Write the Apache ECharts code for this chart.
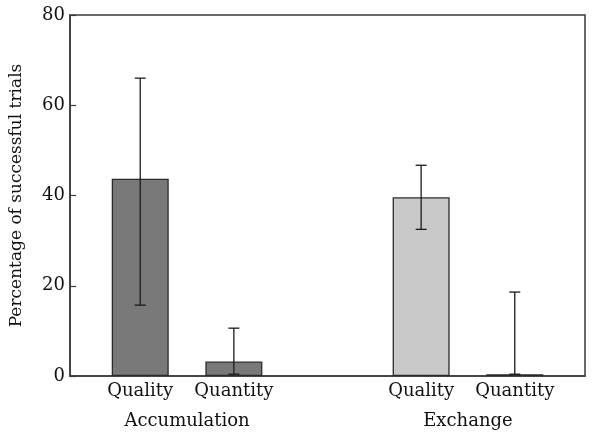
<!DOCTYPE html>
<html>
<head>
<meta charset="utf-8">
<script src="https://cdn.jsdelivr.net/npm/echarts@6/dist/echarts.min.js"></script>
<style>html,body{margin:0;padding:0;background:#fff;}#c{width:600px;height:438px;}</style>
</head>
<body>
<div id="c"></div>
<script>
const groups = ['Accumulation', 'Exchange'];
const categories = ['Quality', 'Quantity', 'Quality', 'Quantity'];
const means = [43.7, 3.2, 39.6, 0.4];
const errLow = [15.7, 0.4, 32.5, 0.4];
const errHigh = [66.0, 10.6, 46.7, 18.6];
const yTicks = [0, 20, 40, 60, 80];
const barColors = ['#797979', '#797979', '#c8c8c8', '#c8c8c8'];

// Build 11 half-slot category axis: bars in slots 1,3 and 7,9; group labels at 2 and 8
const nSlots = 11;
const barSlot = [1, 3, 7, 9];
const groupSlot = [2, 8];
const catData = new Array(nSlots).fill('');
const grpData = new Array(nSlots).fill('');
const barData = new Array(nSlots).fill('-');
barSlot.forEach((s, i) => {
  catData[s] = categories[i];
  barData[s] = { value: means[i], itemStyle: { color: barColors[i] } };
});
groupSlot.forEach((s, i) => { grpData[s] = groups[i]; });
const errData = barSlot.map((s, i) => [s, errLow[i], errHigh[i]]);

const font = 'DejaVu Serif';
const chart = echarts.init(document.getElementById('c'), null, { renderer: 'canvas' });
chart.setOption({
  animation: false,
  backgroundColor: '#fff',
  grid: { left: 69, right: 15, top: 15, bottom: 62, show: true, borderColor: '#3a3a3a', borderWidth: 1.5, containLabel: false },
  xAxis: [
    {
      type: 'category', data: catData, boundaryGap: true,
      axisLine: { show: true, lineStyle: { color: '#3a3a3a', width: 1.5 } },
      axisTick: { show: false },
      axisLabel: { interval: 0, margin: 6, color: '#111', fontFamily: font, fontSize: 18 },
      splitLine: { show: false }
    },
    {
      type: 'category', data: grpData, boundaryGap: true, position: 'bottom',
      axisLine: { show: false }, axisTick: { show: false },
      axisLabel: { interval: 0, margin: 36, color: '#111', fontFamily: font, fontSize: 18 },
      splitLine: { show: false }
    }
  ],
  yAxis: {
    type: 'value', min: yTicks[0], max: yTicks[yTicks.length - 1], interval: 20,
    name: 'Percentage of successful trials', nameLocation: 'middle', nameGap: 45,
    nameTextStyle: { color: '#111', fontFamily: font, fontSize: 17 },
    axisLine: { show: true, lineStyle: { color: '#3a3a3a', width: 1.5 } },
    axisTick: { show: true, inside: true, length: 6, lineStyle: { color: '#3a3a3a', width: 1.2 } },
    axisLabel: { margin: 5, color: '#111', fontFamily: font, fontSize: 18 },
    splitLine: { show: false }
  },
  series: [
    {
      type: 'bar', data: barData, barWidth: 57, xAxisIndex: 0,
      itemStyle: { borderColor: '#2a2a2a', borderWidth: 1.3 }
    },
    {
      type: 'custom', xAxisIndex: 0, data: errData, z: 10,
      renderItem: function (params, api) {
        const x = api.value(0);
        const lo = api.coord([x, api.value(1)]);
        const hi = api.coord([x, api.value(2)]);
        const cap = 5.5;
        const st = { stroke: '#1a1a1a', lineWidth: 1.3 };
        return {
          type: 'group',
          children: [
            { type: 'line', shape: { x1: hi[0], y1: hi[1], x2: lo[0], y2: lo[1] }, style: st },
            { type: 'line', shape: { x1: hi[0] - cap, y1: hi[1], x2: hi[0] + cap, y2: hi[1] }, style: st },
            { type: 'line', shape: { x1: lo[0] - cap, y1: lo[1], x2: lo[0] + cap, y2: lo[1] }, style: st }
          ]
        };
      }
    }
  ]
});
</script>
</body>
</html>
